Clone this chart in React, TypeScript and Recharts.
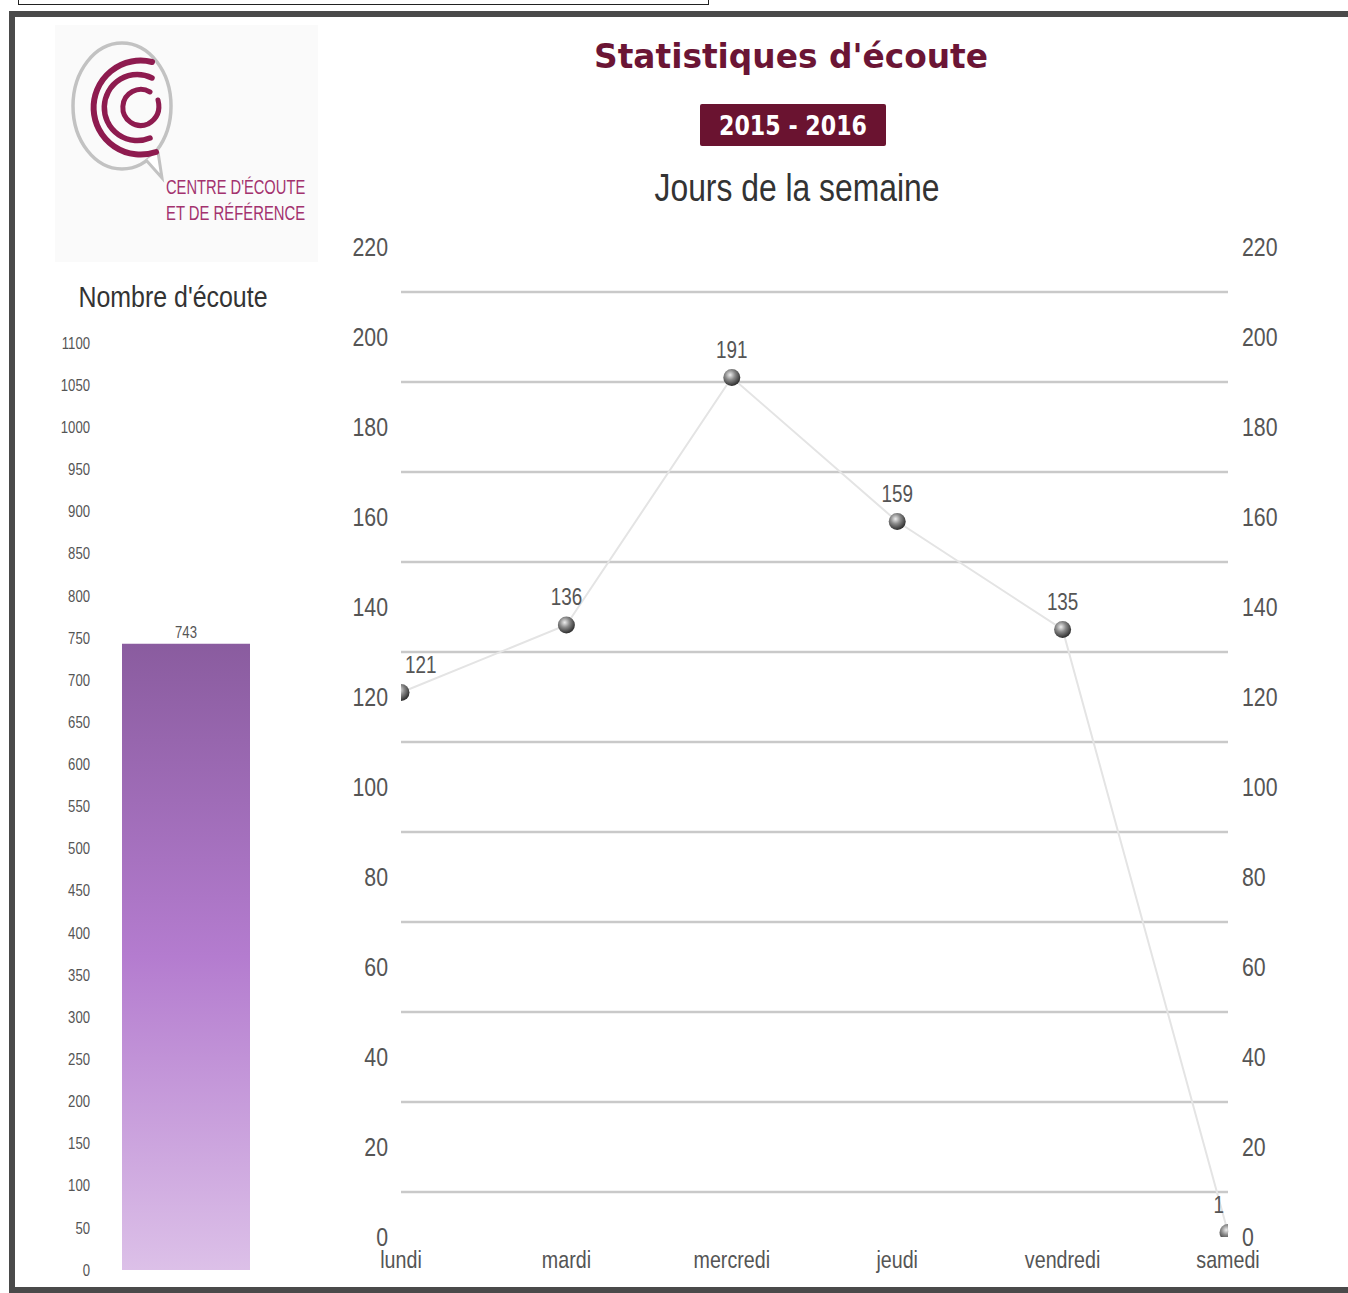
import React from "react"
import { BarChart, Bar, LineChart, Line, XAxis, YAxis, ReferenceLine, LabelList } from "recharts"

// Listening stats per weekday
const DAYS = ["lundi", "mardi", "mercredi", "jeudi", "vendredi", "samedi"]
const CALLS_PER_DAY = [121, 136, 191, 159, 135, 1]
const DAY_TICKS = [0, 20, 40, 60, 80, 100, 120, 140, 160, 180, 200, 220]
const GRID_LEVELS = [10, 30, 50, 70, 90, 110, 130, 150, 170, 190, 210]

// Yearly total
const TOTAL_CATEGORY = ["2015 - 2016"]
const TOTAL_CALLS = [743]
const TOTAL_TICKS = [0, 50, 100, 150, 200, 250, 300, 350, 400, 450, 500, 550, 600, 650, 700, 750, 800, 850, 900, 950, 1000, 1050, 1100]

const SANS = '"Liberation Sans", Arial, sans-serif'
const SQUEEZE = 0.82 // horizontal squeeze to get a narrow face
const MAROON = "#6b1535"

// line chart frame
const LINE_W = 968
const LINE_H = 1047
const LINE_MARGIN = { top: 17, right: 0, bottom: 0, left: 0 }
const LEFT_AXIS_W = 71
const RIGHT_AXIS_W = 70
const X_AXIS_H = 40

const dayData = DAYS.map((day, i) => ({ day, calls: CALLS_PER_DAY[i] }))
const totalData = TOTAL_CATEGORY.map((name, i) => ({ name, calls: TOTAL_CALLS[i] }))

const NarrowText = ({ x, y, anchor, size, fill, dy, children }: any) => (
  <g transform={`translate(${x},${y}) scale(${SQUEEZE},1)`}>
    <text x={0} y={0} dy={dy} textAnchor={anchor} fill={fill} fontSize={size} fontFamily={SANS}>
      {children}
    </text>
  </g>
)

const makeTick = (size: number, dy: string) => (props: any) => {
  const { x, y, payload, textAnchor } = props
  return (
    <NarrowText x={x} y={y} anchor={textAnchor} size={size} fill="#555" dy={dy}>
      {payload.value}
    </NarrowText>
  )
}

const DayTick = makeTick(24, "0.71em")
const CountTick = makeTick(26, "0.355em")
const TotalTick = makeTick(16, "0.355em")

const SphereDot = (props: any) => {
  const { cx, cy, index } = props
  if (cx == null || cy == null) return null
  return <circle key={`dot-${index}`} cx={cx} cy={cy} r={8.5} fill="url(#sphereFill)" clipPath="url(#plotArea)" />
}

const PointLabel = (props: any) => {
  const { x, y, value, index } = props
  let anchor = "middle"
  let dx = 0
  // keep the edge labels inside the plot
  if (index === 0) {
    anchor = "start"
    dx = 4
  } else if (index === CALLS_PER_DAY.length - 1) {
    anchor = "end"
    dx = -4
  }
  return (
    <NarrowText x={x + dx} y={y - 20} anchor={anchor} size={23} fill="#555">
      {value}
    </NarrowText>
  )
}

const TotalLabel = (props: any) => {
  const { x, y, width, value } = props
  return (
    <NarrowText x={x + width / 2} y={y - 6} anchor="middle" size={16} fill="#555">
      {value}
    </NarrowText>
  )
}

const Logo = () => (
  <g>
    <rect x={55} y={25} width={263} height={237} fill="#fafafa" />
    <ellipse cx={122} cy={106} rx={49} ry={63} fill="none" stroke="#c2c2c2" strokeWidth={3.5} />
    <path d="M146 160 L162 178 L158 152" fill="#fff" stroke="#c2c2c2" strokeWidth={3} />
    <g fill="none" stroke="#8e1b4f" strokeLinecap="round">
      <path d="M152 62 A47 47 0 1 0 156 152" strokeWidth={6} />
      <path d="M152 78 A33 33 0 1 0 150 138" strokeWidth={5.5} />
      <path d="M150 92 A18 18 0 1 0 148 124 Q162 116 158 100" strokeWidth={5} />
    </g>
    <g transform="translate(166,0) scale(0.8,1)">
      <text x={0} y={194} fill="#a3326e" fontSize={21} fontFamily={SANS} textLength={174} lengthAdjust="spacingAndGlyphs">
        CENTRE D'ÉCOUTE
      </text>
      <text x={0} y={220} fill="#a3326e" fontSize={21} fontFamily={SANS} textLength={174} lengthAdjust="spacingAndGlyphs">
        ET DE RÉFÉRENCE
      </text>
    </g>
  </g>
)

export default function App() {
  const plotW = LINE_W - LINE_MARGIN.left - LINE_MARGIN.right - LEFT_AXIS_W - RIGHT_AXIS_W
  const plotH = LINE_H - LINE_MARGIN.top - LINE_MARGIN.bottom - X_AXIS_H
  return (
    <div style={{ position: "absolute", left: 0, top: 0, width: 1348, height: 1293, overflow: "hidden", background: "#fff" }}>
      <div style={{ position: "absolute", left: 18, top: -10, width: 689, height: 13, border: "1px solid #222" }} />
      <div style={{ position: "absolute", left: 9, top: 11, width: 1400, height: 1270, border: "6px solid #4a4a4a", background: "#fff" }} />

      <svg width={1348} height={330} style={{ position: "absolute", left: 0, top: 0 }}>
        <Logo />
        <text x={791} y={68} textAnchor="middle" fill={MAROON} fontSize={33} fontWeight="bold" fontFamily='"DejaVu Sans", Verdana, sans-serif' textLength={394} lengthAdjust="spacingAndGlyphs">
          Statistiques d'écoute
        </text>
        <rect x={700} y={104} width={186} height={42} rx={2} fill="#6a1330" />
        <text x={793} y={135} textAnchor="middle" fill="#fff" fontSize={27} fontWeight="bold" fontFamily='"DejaVu Sans", Verdana, sans-serif' textLength={148} lengthAdjust="spacingAndGlyphs">
          2015 - 2016
        </text>
        <text x={797} y={201} textAnchor="middle" fill="#333" fontSize={38} fontFamily={SANS} textLength={285} lengthAdjust="spacingAndGlyphs">
          Jours de la semaine
        </text>
        <text x={173} y={307} textAnchor="middle" fill="#333" fontSize={30} fontFamily={SANS} textLength={189} lengthAdjust="spacingAndGlyphs">
          Nombre d'écoute
        </text>
      </svg>

      {/* yearly total bar */}
      <div style={{ position: "absolute", left: 40, top: 333 }}>
        <BarChart width={229} height={955} data={totalData} margin={{ top: 10, right: 0, bottom: 18, left: 0 }}>
          <defs>
            <linearGradient id="barFill" x1="0" y1="0" x2="0" y2="1">
              <stop offset="0%" stopColor="#8a5c9f" />
              <stop offset="50%" stopColor="#b47ccf" />
              <stop offset="100%" stopColor="#dcc0e8" />
            </linearGradient>
          </defs>
          <XAxis dataKey="name" hide />
          <YAxis
            domain={[0, 1100]}
            ticks={TOTAL_TICKS}
            interval={0}
            width={63}
            axisLine={false}
            tickLine={false}
            tickSize={0}
            tickMargin={13}
            tick={TotalTick}
          />
          <Bar dataKey="calls" barSize={128} fill="url(#barFill)" isAnimationActive={false}>
            <LabelList dataKey="calls" content={TotalLabel} />
          </Bar>
        </BarChart>
      </div>

      {/* calls per weekday */}
      <div style={{ position: "absolute", left: 330, top: 230 }}>
        <LineChart width={LINE_W} height={LINE_H} data={dayData} margin={LINE_MARGIN}>
          <defs>
            <radialGradient id="sphereFill" cx="40%" cy="35%" r="65%">
              <stop offset="0%" stopColor="#eeeeee" />
              <stop offset="45%" stopColor="#8a8a8a" />
              <stop offset="100%" stopColor="#2e2e2e" />
            </radialGradient>
            <clipPath id="plotArea">
              <rect x={LINE_MARGIN.left + LEFT_AXIS_W} y={LINE_MARGIN.top} width={plotW} height={plotH} />
            </clipPath>
          </defs>
          <XAxis
            dataKey="day"
            height={X_AXIS_H}
            interval={0}
            axisLine={false}
            tickLine={false}
            tickSize={0}
            tickMargin={14}
            tick={DayTick}
          />
          <YAxis
            yAxisId="left"
            domain={[0, 220]}
            ticks={DAY_TICKS}
            interval={0}
            width={LEFT_AXIS_W}
            axisLine={false}
            tickLine={false}
            tickSize={0}
            tickMargin={13}
            tick={CountTick}
          />
          <YAxis
            yAxisId="right"
            orientation="right"
            domain={[0, 220]}
            ticks={DAY_TICKS}
            interval={0}
            width={RIGHT_AXIS_W}
            axisLine={false}
            tickLine={false}
            tickSize={0}
            tickMargin={14}
            tick={CountTick}
          />
          {GRID_LEVELS.map((v) => (
            <ReferenceLine key={v} yAxisId="left" y={v} stroke="#c9c9c9" strokeWidth={2.5} />
          ))}
          {/* same series bound to the right scale so that axis gets drawn */}
          <Line yAxisId="right" dataKey="calls" stroke="none" dot={false} activeDot={false} legendType="none" isAnimationActive={false} />
          <Line
            yAxisId="left"
            type="linear"
            dataKey="calls"
            stroke="#e4e4e4"
            strokeWidth={2}
            dot={SphereDot}
            activeDot={false}
            isAnimationActive={false}
          >
            <LabelList dataKey="calls" content={PointLabel} />
          </Line>
        </LineChart>
      </div>
    </div>
  )
}
